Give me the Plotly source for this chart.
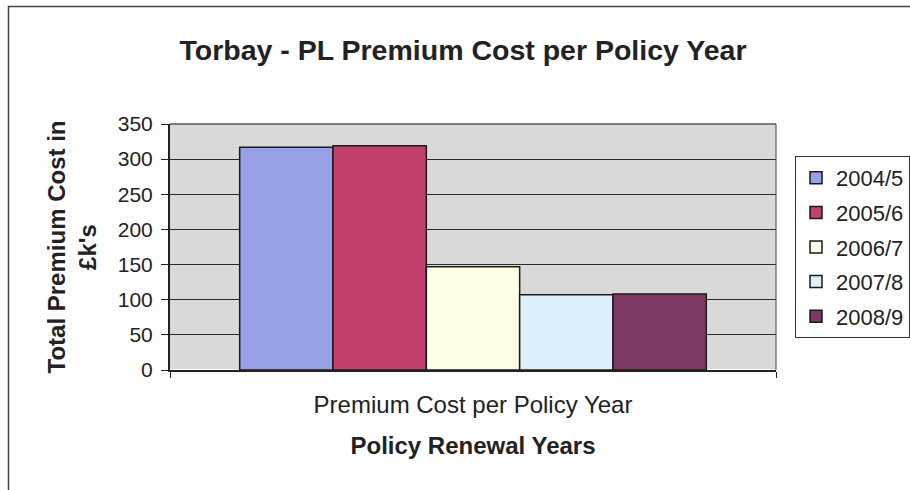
import plotly.graph_objects as go

category = ["Premium Cost per Policy Year"]
series_names = ["2004/5", "2005/6", "2006/7", "2007/8", "2008/9"]
series_values = [317, 319, 147, 107, 108]
colors = ["#98A1E8", "#C2416F", "#FFFFE8", "#DDF0FB", "#7C3A62"]
y_ticks = [0, 50, 100, 150, 200, 250, 300, 350]

FONT = "Liberation Sans, Arial, sans-serif"

fig = go.Figure()
for i, (name, val) in enumerate(zip(series_names, series_values)):
    fig.add_trace(go.Bar(
        x=category, y=[val], name=name, legendgroup=name,
        marker=dict(color=colors[i], line=dict(color="#1a1a1a", width=1.5)),
    ))

W, H = 910, 490
L, R, T, B = 170, 776, 124, 370


def px(x):
    return (x - L) / (R - L)


def py(y):
    return (B - y) / (B - T)


fig.update_layout(
    width=W, height=H,
    margin=dict(l=L, r=W - R, t=T, b=H - B, pad=0, autoexpand=False),
    paper_bgcolor="white",
    plot_bgcolor="#D9D9D9",
    font=dict(family=FONT, size=21, color="#222222"),
    barmode="group",
    bargap=0.23,
    bargroupgap=0,
    title=dict(text="<b>Torbay - PL Premium Cost per Policy Year</b>",
               x=463 / W, xanchor="center",
               y=1 - 50 / H, yanchor="middle",
               font=dict(size=28.5, family=FONT, color="#222222")),
    showlegend=True,
    legend=dict(xref="container", yref="container",
                x=795 / W, y=1 - 156 / H,
                xanchor="left", yanchor="top",
                bordercolor="#333333", borderwidth=1, bgcolor="white",
                font=dict(size=22, family=FONT, color="#222222"),
                tracegroupgap=3, itemwidth=30),
    xaxis=dict(showline=True, linecolor="#222222", linewidth=2,
               ticks="outside", tickson="boundaries", ticklen=6,
               tickcolor="#222222", ticklabelstandoff=12,
               tickfont=dict(size=24),
               title=dict(text="<b>Policy Renewal Years</b>", standoff=20,
                          font=dict(size=24))),
    yaxis=dict(range=[0, 350], tickvals=y_ticks, showline=True,
               linecolor="#222222", linewidth=2, mirror=False,
               ticks="outside", ticklen=7, tickcolor="#222222",
               ticklabelstandoff=4,
               showgrid=True, gridcolor="#2a2a2a", gridwidth=1,
               tickfont=dict(size=21),
               title=dict(text="<b>Total Premium Cost in<br>£k's</b>",
                          standoff=14, font=dict(size=24))),
    shapes=[
        dict(type="line", xref="paper", yref="paper",
             x0=px(8), x1=px(910), y0=py(6.5), y1=py(6.5),
             line=dict(color="#444444", width=1.5)),
        dict(type="line", xref="paper", yref="paper",
             x0=px(8.5), x1=px(8.5), y0=py(6), y1=py(490),
             line=dict(color="#444444", width=1.5)),
        dict(type="line", xref="paper", yref="paper",
             x0=1, x1=1, y0=0, y1=1,
             line=dict(color="#444444", width=1)),
        dict(type="line", xref="paper", yref="paper",
             x0=0, x1=1, y0=1, y1=1,
             line=dict(color="#555555", width=1.5)),
    ],
)

fig.write_html(
    "out.html",
    config={"displayModeBar": False},
    post_script="document.body.style.margin='0';"
                "document.body.style.overflow='hidden';",
)
